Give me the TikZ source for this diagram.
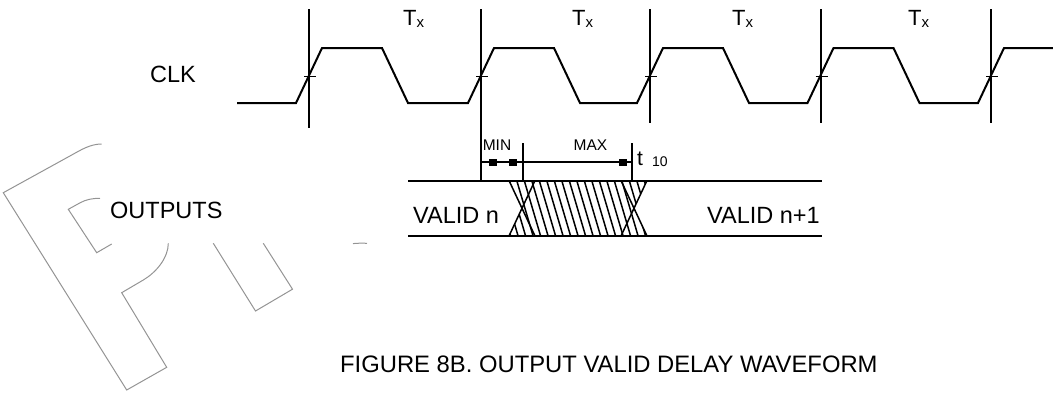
\documentclass[tikz,border=0pt]{standalone}
\usepackage{fontspec}
\setmainfont{Liberation Sans}
\begin{document}
\begin{tikzpicture}[x=1pt,y=-1pt,
  wm/.style={draw=black!42, line width=1pt, line join=miter},
  wave/.style={line width=2pt, line join=miter},
  sig/.style={line width=2pt},
  hat/.style={line width=1.5pt},
  txt/.style={inner sep=0pt, anchor=base west, font=\fontsize{23.5}{28}\selectfont},
  blk/.style={fill=black}
]
\useasboundingbox (0,0) rectangle (1053,392);

% watermark (faint logo outline)
\draw[wm] (101.7,144) .. controls (90,144) and (80.5,150.2) .. (71.7,155)
  -- (3.3,192.7) -- (126.7,390) -- (166.7,367.3) -- (121.7,292.7) -- (143.3,280)
  .. controls (156,272.5) and (168.3,258) .. (168.3,243.3);
\draw[wm] (100,198.3) .. controls (92,198.3) and (86,199.5) .. (79.7,203)
  -- (68.3,209.3) -- (96.7,252.7) -- (111.7,244);
\draw[wm] (213.3,243.3) -- (255.5,311) -- (292.5,289.2) -- (263.3,243.3);
\draw[wm] (353,243.6) .. controls (358,243.1) and (362,243.1) .. (367,243.3);

% clock waveform
\draw[wave] (237,103) -- (296,103) -- (322,48) -- (382,48) -- (408,103)
  -- (468,103) -- (494,48) -- (554,48) -- (580,103)
  -- (637,103) -- (663,48) -- (723,48) -- (749,103)
  -- (807.5,103) -- (833.5,48) -- (893.5,48) -- (919.5,103)
  -- (978,103) -- (1004,48) -- (1053,48);

% reference verticals
\draw[sig] (309,9) -- (309,128);
\draw[sig] (481,9) -- (481,181);
\draw[sig] (650,9) -- (650,123);
\draw[sig] (820.5,9) -- (820.5,123);
\draw[sig] (991,9) -- (991,123);
\foreach \v in {309,481,650,820.5,991}
  \draw[line width=1.8pt] ({\v-5},76.5) -- ({\v+7},76.5);

% period labels
\foreach \p/\n in {403/ta,572/tb,732/tc,908/td}
  \node[inner sep=0pt, anchor=base west] (\n) at (\p,25.5)
    {\fontsize{22}{25}\selectfont T\raisebox{-2pt}{\fontsize{15}{17}\selectfont x}};

\node[txt] (clk) at (150,82) {CLK};
\node[txt] (outs) at (110,218) {OUTPUTS};

% output bus lines
\draw[sig] (408,180.5) -- (822,180.5);
\draw[sig] (408,236) -- (822,236);

% hatched transition region
\begin{scope}
  \clip (509,180.5) -- (647,180.5) -- (634,208.25) -- (647,236) -- (509,236) -- (522,208.25) -- cycle;
  \foreach \x in {486,493.5,...,660}
    \draw[hat] (\x,178) -- ({\x+18},239);
\end{scope}
\draw[hat] (509,180.5) -- (535,236) (509,236) -- (535,180.5)
  (621,180.5) -- (647,236) (621,236) -- (647,180.5);

% MIN / MAX dimension
\draw[line width=1.6pt] (481,162) -- (632,162);
\draw[line width=1.8pt] (523,143) -- (523,180.5);
\draw[line width=1.8pt] (632,143) -- (632,180.5);
\fill[blk] (488.5,158.5) rectangle (496.5,165.5);
\fill[blk] (508.5,158.5) rectangle (516.5,165.5);
\fill[blk] (619,158.5) rectangle (627,165.5);

\node[inner sep=0pt, anchor=base, font=\fontsize{15.5}{18}\selectfont] (min) at (497,150) {MIN};
\node[inner sep=0pt, anchor=base, font=\fontsize{15.5}{18}\selectfont] (max) at (590.5,150.5) {MAX};
\node[inner sep=0pt, anchor=base west, font=\fontsize{21}{24}\selectfont] (t) at (637,165) {t};
\node[inner sep=0pt, anchor=base west, font=\fontsize{14}{16}\selectfont] (ten) at (652,166) {10};

\node[txt] (vn) at (413,223) {VALID n};
\node[txt, anchor=base east] (vn1) at (820,223) {VALID n+1};

\node[inner sep=0pt, anchor=base west, font=\fontsize{23.8}{28}\selectfont] (cap) at (340,372)
  {FIGURE 8B. OUTPUT VALID DELAY WAVEFORM};
\end{tikzpicture}
\end{document}
